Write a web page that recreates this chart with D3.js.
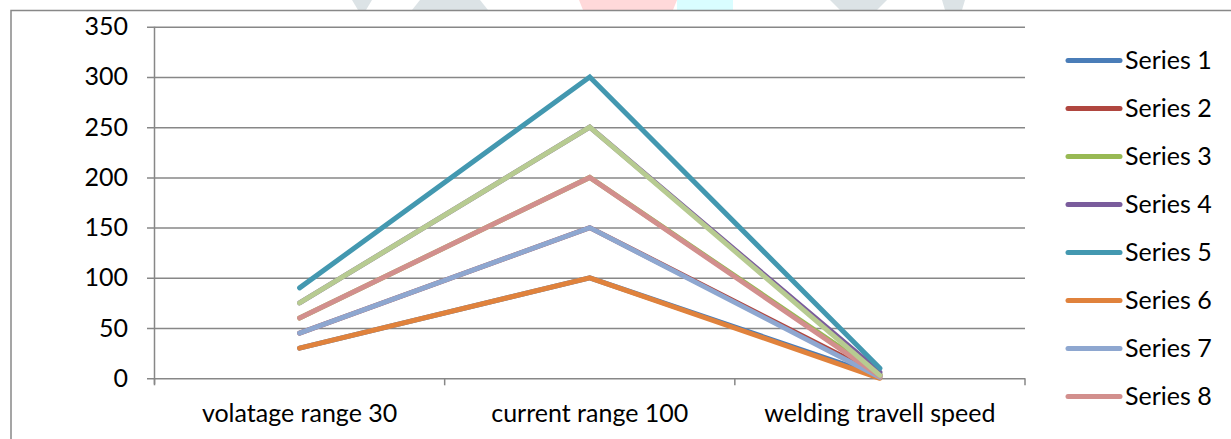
<!DOCTYPE html>
<html>
<head>
<meta charset="utf-8">
<script src="https://cdn.jsdelivr.net/npm/d3@7"></script>
<style>
  html, body { margin: 0; padding: 0; background: #fff; }
  svg { display: block; }
  text { font-family: Lato, "Open Sans", sans-serif; fill: #000; }
</style>
</head>
<body>
<svg id="chart" width="1231" height="439"></svg>
<script>
// ---------- data ----------
const categories = ["volatage range 30", "current range 100", "welding travell speed"];
const seriesNames = ["Series 1", "Series 2", "Series 3", "Series 4", "Series 5",
                     "Series 6", "Series 7", "Series 8", "Series 9"];
const series1 = [30, 100, 2];
const series2 = [45, 150, 3];
const series3 = [60, 200, 4];
const series4 = [75, 250, 6];
const series5 = [90, 300, 10];
const series6 = [30, 100, 0];
const series7 = [45, 150, 1];
const series8 = [60, 200, 2];
const series9 = [75, 250, 3];
const seriesValues = [series1, series2, series3, series4, series5, series6, series7, series8, series9];
const seriesColors = ["#4A7DB8", "#B0463F", "#98B954", "#7A5C9C", "#4398B0",
                      "#E0823C", "#8EA7D0", "#D28F8D", "#B7CB91"];
const yTicks = [0, 50, 100, 150, 200, 250, 300, 350];
// legend in the reference only shows the first eight entries
const legendCount = 8;

// ---------- layout ----------
const svg = d3.select("#chart");
const plotLeft = 154.5, plotRight = 1025, plotTop = 26.7, plotBottom = 378.3;

// faint watermark fragments above the chart frame
const wm = svg.append("g");
[[352, 372, "#DCE3E6", 6], [420, 480, "#DCE3E6", -8], [579, 677, "#FFD9DA", 4], [677, 733, "#D9FDFF", 0],
 [830, 887, "#DCE3E6", 10], [942, 965, "#DCE3E6", 3]].forEach(d => {
  wm.append("path")
    .attr("d", `M${d[0]},0 L${d[1]},0 L${d[1] - d[3]},10 L${d[0] + d[3]},10 Z`)
    .attr("fill", d[2]);
});

// chart frame
svg.append("path")
  .attr("d", "M11,445 L11,10.5 L1240,10.5")
  .attr("fill", "none").attr("stroke", "#888").attr("stroke-width", 1.5);

const x = d3.scaleBand().domain(categories).range([plotLeft, plotRight]).padding(0);
const y = d3.scaleLinear().domain([0, 350]).range([plotBottom, plotTop]);

// gridlines + y tick labels
const yAxis = d3.axisLeft(y)
  .tickValues(yTicks)
  .tickSizeInner(-(plotRight - 147))
  .tickSizeOuter(0)
  .tickPadding(19)
  .tickFormat(d3.format("d"));
const gy = svg.append("g").attr("transform", "translate(147,0)").call(yAxis);
gy.select(".domain").remove();
gy.selectAll("line").attr("stroke", "#878787").attr("stroke-width", 1.5);
gy.selectAll("text").attr("font-size", 25).attr("fill", "#000")
  .attr("font-family", "Lato, sans-serif");

// y axis line
svg.append("line")
  .attr("x1", plotLeft).attr("x2", plotLeft)
  .attr("y1", plotTop).attr("y2", plotBottom + 6)
  .attr("stroke", "#878787").attr("stroke-width", 1.5);

// x axis ticks at category boundaries
const boundaries = categories.map(c => x(c)).concat([x(categories[categories.length - 1]) + x.bandwidth()]);
svg.append("g").selectAll("line").data(boundaries).join("line")
  .attr("x1", d => d).attr("x2", d => d)
  .attr("y1", plotBottom).attr("y2", plotBottom + 7)
  .attr("stroke", "#878787").attr("stroke-width", 1.5);

// x labels
svg.append("g").selectAll("text").data(categories).join("text")
  .attr("x", d => x(d) + x.bandwidth() / 2)
  .attr("y", 413)
  .attr("dy", "0.35em")
  .attr("text-anchor", "middle")
  .attr("font-size", 25)
  .text(d => d);

// lines
const line = d3.line()
  .x((d, i) => x(categories[i]) + x.bandwidth() / 2)
  .y(d => y(d));
svg.append("g").selectAll("path").data(seriesValues).join("path")
  .attr("d", d => line(d))
  .attr("fill", "none")
  .attr("stroke", (d, i) => seriesColors[i])
  .attr("stroke-width", 5)
  .attr("stroke-linecap", "round")
  .attr("stroke-linejoin", "miter");

// legend
const legend = svg.append("g").selectAll("g")
  .data(seriesNames.slice(0, legendCount)).join("g")
  .attr("transform", (d, i) => `translate(0,${60.5 + i * 48})`);
legend.append("line")
  .attr("x1", 1068).attr("x2", 1120).attr("y1", 0).attr("y2", 0)
  .attr("stroke", (d, i) => seriesColors[i])
  .attr("stroke-width", 5).attr("stroke-linecap", "round");
legend.append("text")
  .attr("x", 1125).attr("y", 0).attr("dy", "0.35em")
  .attr("font-size", 25)
  .text(d => d);
</script>
</body>
</html>
